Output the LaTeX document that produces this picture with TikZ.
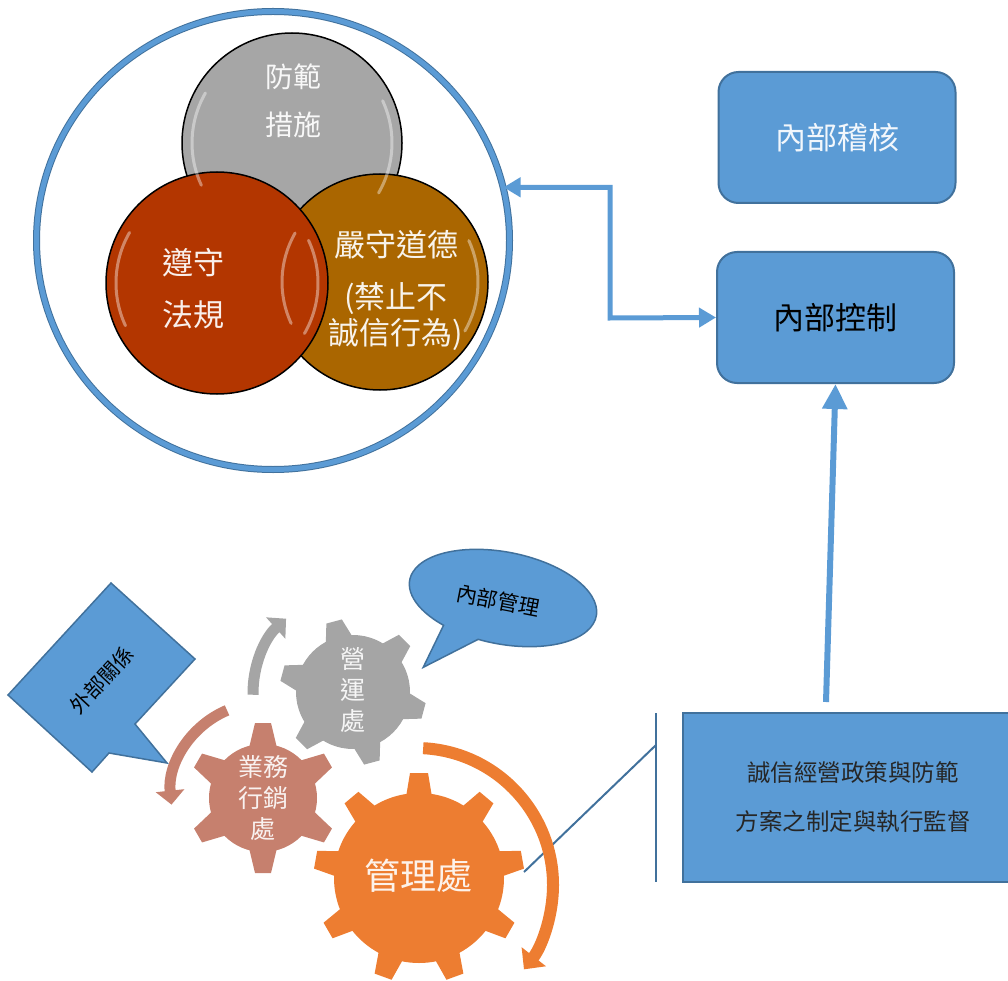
\documentclass[tikz,border=0pt]{standalone}
\usepackage{fontspec}
\setmainfont{Noto Sans CJK TC}
\usetikzlibrary{arrows.meta,shapes.geometric}
\definecolor{boxblue}{HTML}{5B9BD5}
\definecolor{edgeblue}{HTML}{41719C}
\definecolor{ballgray}{HTML}{A6A6A6}
\definecolor{ballred}{HTML}{B33600}
\definecolor{ballbrown}{HTML}{AA6600}
\definecolor{gearpink}{HTML}{C6806E}
\definecolor{geargray}{HTML}{A5A5A5}
\definecolor{gearorange}{HTML}{ED7D31}
\tikzset{
    ring/.style={ellipse, draw=edgeblue, line width=1pt, double=boxblue, double distance=5pt},
    bubble/.style={circle, draw=black, line width=1.5pt, fill=#1, minimum size=220pt, inner sep=0pt},
    gloss/.style={draw=white, line width=3pt, opacity=0.4, line cap=round},
    balltext/.style={text=white!92!#1, align=center},
    panel/.style={draw=edgeblue, line width=2pt, fill=boxblue, rounded corners=20pt, minimum width=237pt, minimum height=131pt},
    link/.style={draw=boxblue, line width=5pt},
    turn/.style={line width=11pt, -{Triangle[length=14pt,width=28pt]}},
    geartext/.style={text=white!90!#1, align=center, font=\fontsize{25}{31}\selectfont},
    pics/gear/.style n args={6}{code={
        \fill (0,0) circle (#3pt);
        \foreach \k in {1,...,#1}
            \fill[rotate={#2+(\k-1)*360/#1-90}] (-#5,#3-4) -- (-#6,#4) -- (#6,#4) -- (#5,#3-4) -- cycle;
    }},
}
\begin{document}
\begin{tikzpicture}[x=1pt, y=1pt]
\useasboundingbox (0,0) rectangle (1008,-981);
% ring with the three balls
\node[ring, minimum width=473pt, minimum height=458pt] (ring) at (273,-240.5) {};
\node[bubble=ballgray] (guard) at (292,-143) {};
\node[bubble=ballbrown, minimum size=216pt] (ethic) at (380,-282) {};
\node[bubble=ballred, minimum size=222pt] (law) at (217,-283) {};
\foreach \ball/\r in {guard/100, ethic/98, law/101} {
    \draw[gloss] ([shift={(150:\r)}]\ball.center) arc[start angle=150, end angle=205, radius=\r pt];
    \draw[gloss] ([shift={(-30:\r)}]\ball.center) arc[start angle=-30, end angle=25, radius=\r pt];
}
\node[balltext=ballgray, font=\fontsize{28}{48}\selectfont] (guardname) at (293,-101) {防範\\措施};
\node[balltext=ballred, font=\fontsize{31}{52}\selectfont] (lawname) at (193,-289) {遵守\\法規};
\node[balltext=ballbrown, font=\fontsize{31}{36}\selectfont] (ethicname) at (396,-290) {嚴守道德\\[16pt](禁止不\\誠信行為)};
% boxes on the right
\node[panel, text=white!92!boxblue, font=\fontsize{31}{36}\selectfont] (audit) at (837,-137.5) {內部稽核};
\node[panel, font=\fontsize{31}{36}\selectfont] (ctrl) at (835.5,-317.5) {內部控制};
\node[draw=edgeblue, line width=2.5pt, fill=boxblue, minimum width=340pt, minimum height=169pt, align=center, text=black!85, font=\fontsize{23.5}{49}\selectfont] (policy) at (853,-797.5) {誠信經營政策與防範\\方案之制定與執行監督};
\draw[link, {Triangle[length=17pt,width=19pt]}-{Triangle[length=17pt,width=19pt]}] (ring.13) -| (610,-318) -- (ctrl.west);
\coordinate (rise) at (826,-702);
\draw[link, line width=6pt, -{Triangle[length=25pt,width=24pt]}] (rise) -- (ctrl.south);
% callout line of the policy box
\coordinate (bartop) at (656,-713);
\coordinate (barbot) at (656,-882);
\coordinate (barmid) at (656,-745);
\coordinate (lead) at (524,-872);
\draw[edgeblue, line width=2pt] (bartop) -- (barbot);
\draw[edgeblue, line width=2pt] (barmid) -- (lead);
% gears
\pic[fill=gearpink] (sales) at (263,-798) {gear={6}{90}{54}{75}{14}{8}};
\pic[fill=geargray] (ops) at (353,-692) {gear={6}{105}{57}{73}{14}{8}};
\pic[fill=gearorange] (admin) at (419,-878) {gear={9}{90}{85}{105}{13}{9}};
\draw[turn, draw=gearpink] ([shift={(113:92)}]263,-795) arc[start angle=113, end angle=186, radius=92pt];
\draw[turn, draw=geargray] ([shift={(181:100)}]353,-693) arc[start angle=181, end angle=132, radius=100pt];
\draw[turn, draw=gearorange, line width=12pt, -{Triangle[length=16pt,width=30pt]}] ([shift={(87:137)}]416,-885) arc[start angle=87, end angle=-38, radius=137pt];
\node[geartext=gearpink] (salesname) at (263,-798) {業務\\行銷\\處};
\node[geartext=geargray] (opsname) at (353,-690) {營\\運\\處};
\node[text=white!90!gearorange, font=\fontsize{36}{40}\selectfont] (adminname) at (418,-876) {管理處};
% callouts
\draw[fill=boxblue, draw=edgeblue, line width=1.5pt] (111,-583) -- (195,-659) -- (135,-724) -- (167,-763) -- (109,-753) -- (92,-772) -- (8,-695) -- cycle;
\node[rotate=47, font=\fontsize{20.5}{24}\selectfont] (outside) at (102,-680) {外部關係};
\begin{scope}[rotate around={-11:(503,-598)}]
\draw[fill=boxblue, draw=edgeblue, line width=1.5pt] ([shift={(260:95 and 46)}]503,-598) arc[start angle=260, end angle=596, x radius=95pt, y radius=46pt] -- (437.9,-681.3) -- cycle;
\end{scope}
\node[rotate=-11, font=\fontsize{21}{24}\selectfont] (inside) at (498,-601) {內部管理};
\end{tikzpicture}
\end{document}
